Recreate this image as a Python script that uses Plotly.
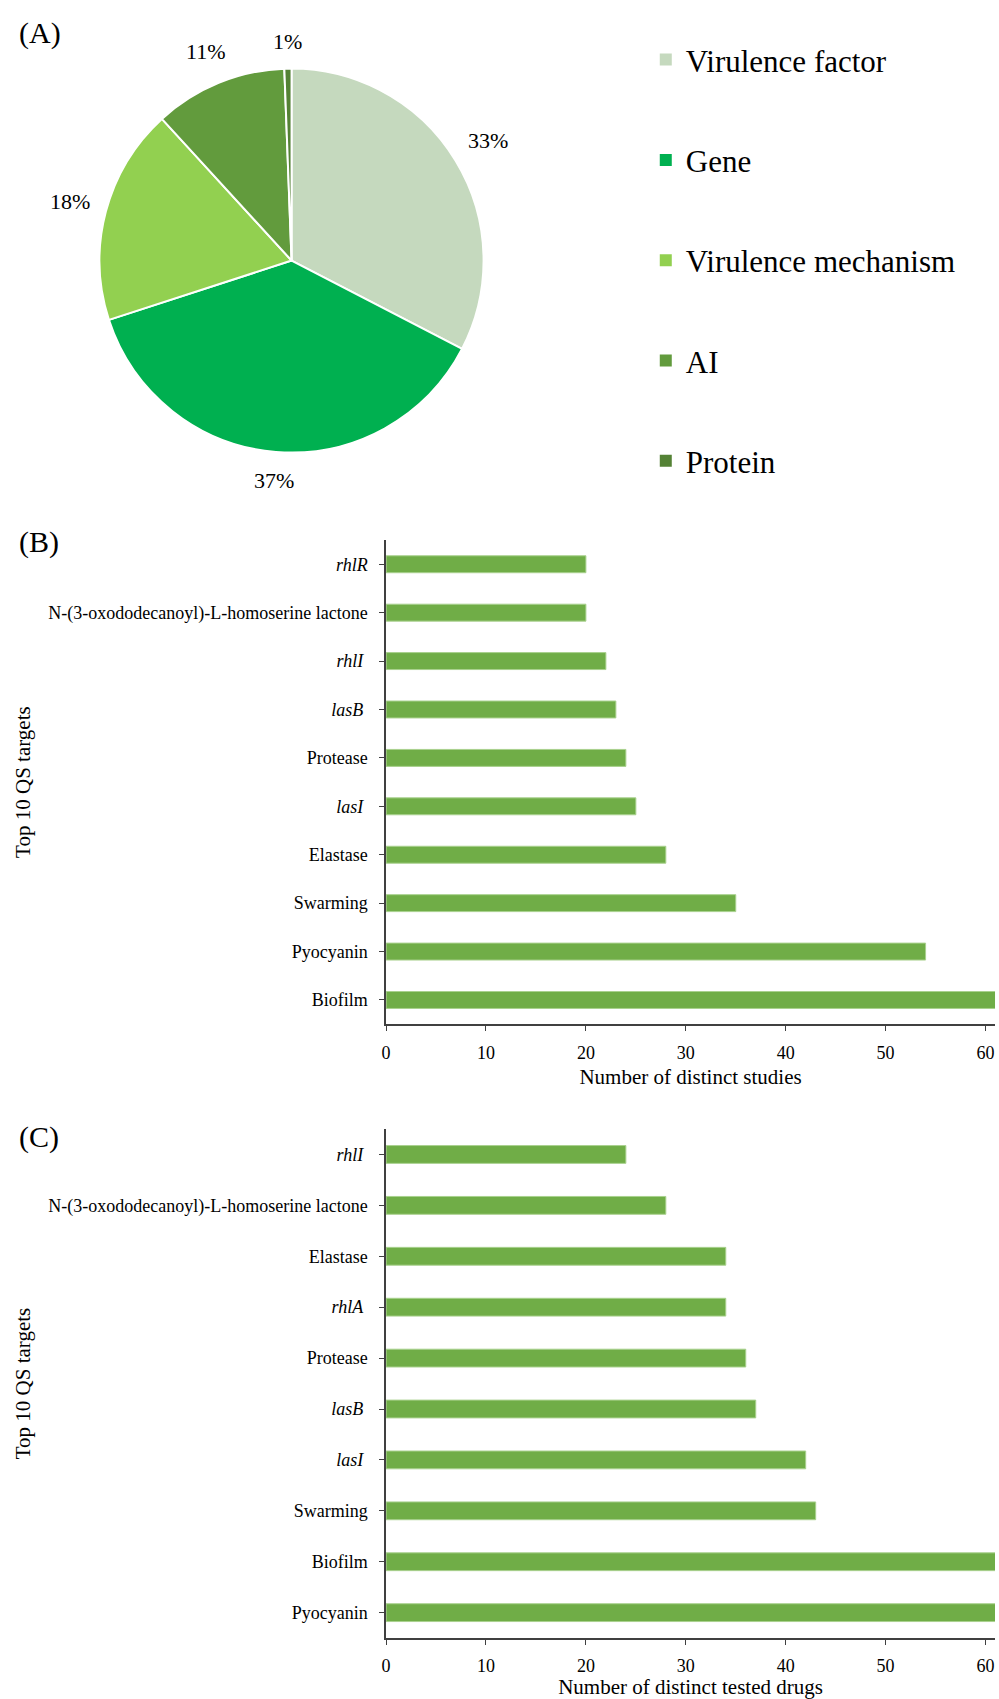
import numpy as np
import plotly.graph_objects as go

# ---------------- data ----------------
pie_labels = ["Virulence factor", "Gene", "Virulence mechanism", "AI", "Protein"]
pie_values = [32.6, 37.4, 18.2, 11.2, 0.6]
pie_colors = ["#C5D9BE", "#00B050", "#92D050", "#629B3D", "#548235"]

b_targets = ["<i>rhlR</i>", "N-(3-oxododecanoyl)-L-homoserine lactone", "<i>rhlI</i> ",
             "<i>lasB</i> ", "Protease", "<i>lasI</i> ", "Elastase", "Swarming",
             "Pyocyanin", "Biofilm"]
b_studies = [20, 20, 22, 23, 24, 25, 28, 35, 54, 62]

c_targets = ["<i>rhlI</i> ", "N-(3-oxododecanoyl)-L-homoserine lactone", "Elastase",
             "<i>rhlA</i> ", "Protease", "<i>lasB</i> ", "<i>lasI</i> ", "Swarming",
             "Biofilm", "Pyocyanin"]
c_drugs = [24, 28, 34, 34, 36, 37, 42, 43, 62, 62]

x_ticks = [0, 10, 20, 30, 40, 50, 60]
x_range = [0, 60.95]

# ---------------- layout helpers ----------------
W, H = 999, 1699
FONT = "Liberation Serif, Times New Roman, serif"
BAR = "#70AD47"
AX = "#404040"


def px_x(x):
    return x / W


def px_y(y):
    return 1 - y / H


# pie geometry (pixels)
PIE_CX, PIE_CY, PIE_R = 288, 261, 193
LAB_FS = 22

fig = go.Figure()

# Pie (A)
fig.add_trace(go.Pie(
    labels=pie_labels, values=pie_values, sort=False, direction="clockwise",
    rotation=0, marker=dict(colors=pie_colors, line=dict(color="white", width=2)),
    textinfo="none",
    domain=dict(x=[px_x(PIE_CX - PIE_R), px_x(PIE_CX + PIE_R)],
                y=[px_y(PIE_CY + PIE_R), px_y(PIE_CY - PIE_R)]),
    showlegend=False, hoverinfo="label+percent",
))

# percentage labels outside the slices, placed from the slice mid-angles
vals = np.array(pie_values, dtype=float)
frac = vals / vals.sum()
mid = (np.cumsum(frac) - frac / 2) * 2 * np.pi  # clockwise from 12 o'clock
annotations = []
for f, a in zip(frac, mid):
    txt = f"{round(f * 100):.0f}%"
    half_w = 0.5 * LAB_FS * (0.5 * (len(txt) - 1) + 0.833)
    half_h = 0.5 * LAB_FS
    s, c = np.sin(a), np.cos(a)
    d = PIE_R + 15 + abs(s) * half_w + abs(c) * half_h
    lx = PIE_CX + d * s
    ly = PIE_CY - d * c
    annotations.append(dict(
        text=txt, x=px_x(lx), y=px_y(ly), xref="paper", yref="paper",
        xanchor="center", yanchor="middle", showarrow=False,
        font=dict(family=FONT, size=LAB_FS, color="black")))

# Legend entries for pie (one group each so spacing can be controlled)
for lab, col in zip(pie_labels, pie_colors):
    fig.add_trace(go.Scatter(
        x=[None], y=[None], mode="markers", name=lab, legendgroup=lab,
        marker=dict(symbol="square", size=12, color=col),
        xaxis="x3", yaxis="y3", showlegend=True,
    ))

# Bar (B)
fig.add_trace(go.Bar(
    y=b_targets, x=b_studies, orientation="h", width=0.35,
    marker=dict(color=BAR, line=dict(color="#A9D18E", width=1)),
    xaxis="x", yaxis="y", showlegend=False,
))

# Bar (C)
fig.add_trace(go.Bar(
    y=c_targets, x=c_drugs, orientation="h", width=0.35,
    marker=dict(color=BAR, line=dict(color="#A9D18E", width=1)),
    xaxis="x2", yaxis="y2", showlegend=False,
))

common_x = dict(
    range=x_range, tickvals=x_ticks, showline=True, linecolor=AX, linewidth=1.5,
    ticks="outside", ticklen=5, tickcolor=AX, tickwidth=1.2, showgrid=False,
    zeroline=False, tickfont=dict(family=FONT, size=18, color="black"),
    ticklabelstandoff=6,
)
common_y = dict(
    type="category", range=[9.5, -0.5], showline=True, linecolor=AX, linewidth=1.5,
    ticks="outside", ticklen=5, tickcolor=AX, tickwidth=1.2, showgrid=False,
    zeroline=False, tickfont=dict(family=FONT, size=18, color="black"),
    ticklabelstandoff=8,
)

for lab, yy in (("(A)", 33), ("(B)", 543), ("(C)", 1139)):
    annotations.append(dict(
        text=lab, x=px_x(12), y=px_y(yy), xref="paper", yref="paper",
        xanchor="left", yanchor="middle", showarrow=False,
        font=dict(family=FONT, size=30, color="black")))

fig.update_layout(
    width=W, height=H, margin=dict(l=0, r=0, t=0, b=0),
    paper_bgcolor="white", plot_bgcolor="white",
    font=dict(family=FONT, color="black"),
    xaxis=dict(**common_x, domain=[px_x(383), px_x(995)], anchor="y",
               title=dict(text="Number of distinct studies",
                          font=dict(family=FONT, size=21), standoff=8)),
    yaxis=dict(**common_y, domain=[px_y(1026), px_y(541)], anchor="x",
               title=dict(text="Top 10 QS targets",
                          font=dict(family=FONT, size=21), standoff=12)),
    xaxis2=dict(**common_x, domain=[px_x(383), px_x(995)], anchor="y2",
                title=dict(text="Number of distinct tested drugs",
                           font=dict(family=FONT, size=21), standoff=8)),
    yaxis2=dict(**common_y, domain=[px_y(1641), px_y(1131)], anchor="x2",
                title=dict(text="Top 10 QS targets",
                           font=dict(family=FONT, size=21), standoff=12)),
    xaxis3=dict(visible=False, domain=[0, 0.001], anchor="y3"),
    yaxis3=dict(visible=False, domain=[0, 0.001], anchor="x3"),
    legend=dict(
        x=px_x(644), y=px_y(33), xanchor="left", yanchor="top",
        font=dict(family=FONT, size=31, color="black"),
        tracegroupgap=57, itemsizing="constant", itemwidth=30,
        bgcolor="rgba(0,0,0,0)",
    ),
    annotations=annotations,
)

fig.write_html("out.html")
